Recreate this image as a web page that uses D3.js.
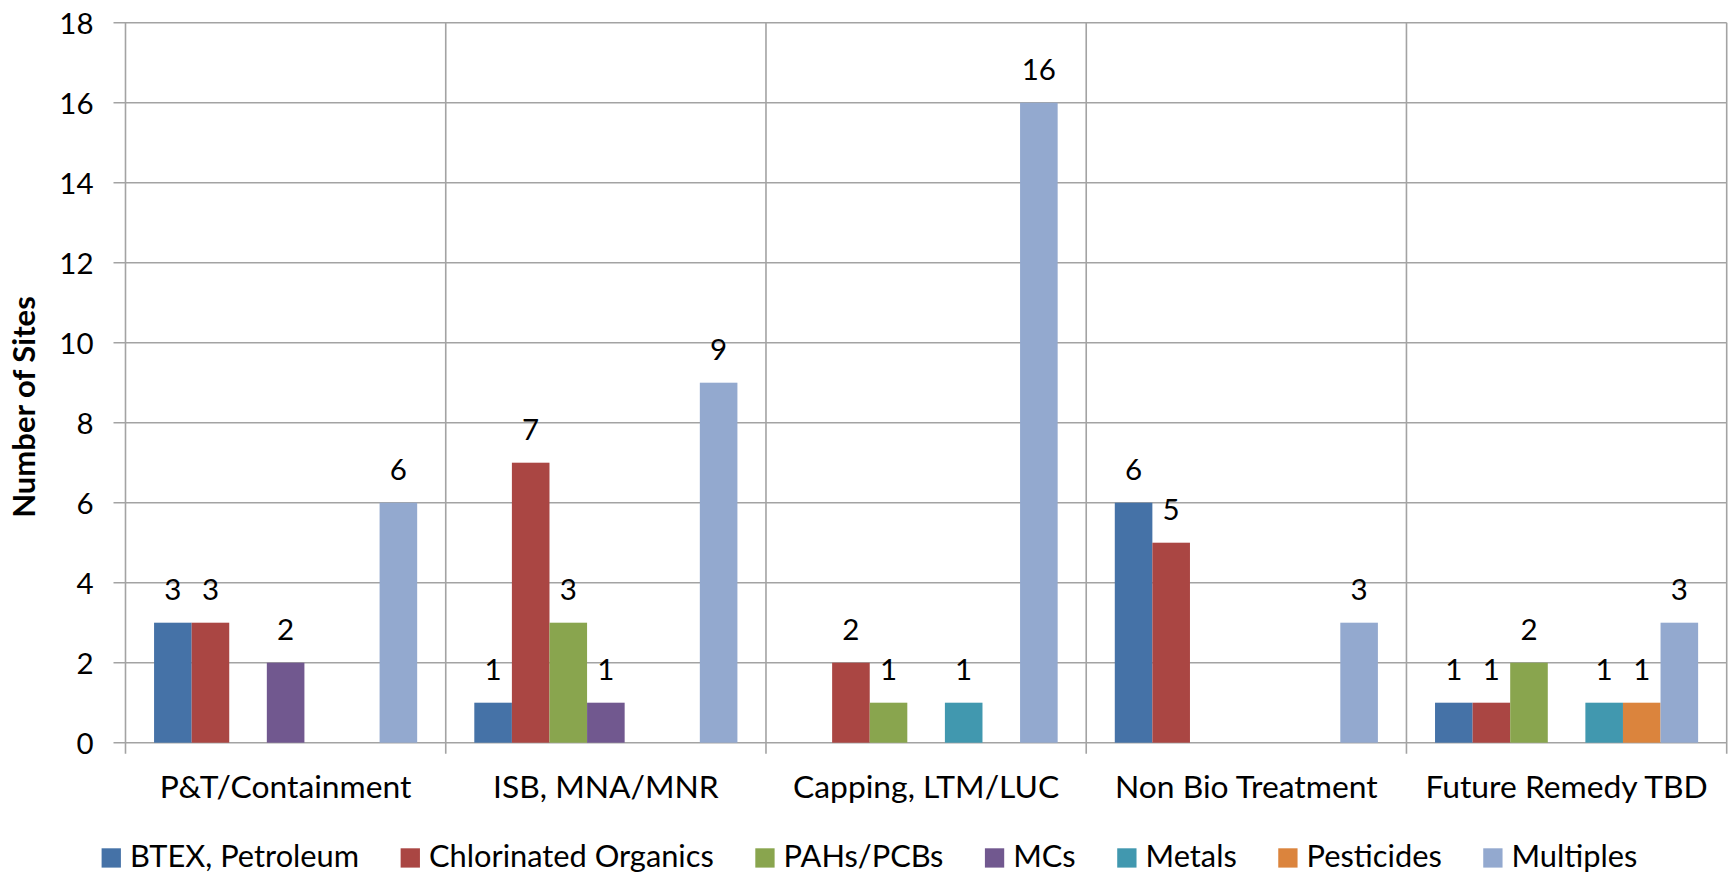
<!DOCTYPE html>
<html>
<head>
<meta charset="utf-8">
<script src="https://cdn.jsdelivr.net/npm/d3@7/dist/d3.min.js"></script>
<style>
  html, body { margin: 0; padding: 0; background: #ffffff; }
  svg { display: block; }
  text { font-family: Lato, "Open Sans", sans-serif; fill: #000; }
</style>
</head>
<body>
<svg id="chart" width="1733" height="876"></svg>
<script>
// ---- data ----
const categories = ["P&T/Containment", "ISB, MNA/MNR", "Capping, LTM/LUC", "Non Bio Treatment", "Future Remedy TBD"];
const seriesNames = ["BTEX, Petroleum", "Chlorinated Organics", "PAHs/PCBs", "MCs", "Metals", "Pesticides", "Multiples"];
const btex        = [3, 1, null, 6, 1];
const chlorinated = [3, 7, 2, 5, 1];
const pahs        = [null, 3, 1, null, 2];
const mcs         = [2, 1, null, null, null];
const metals      = [null, null, 1, null, 1];
const pesticides  = [null, null, null, null, 1];
const multiples   = [6, 9, 16, 3, 3];
const yTicks = [0, 2, 4, 6, 8, 10, 12, 14, 16, 18];
const colors = ["#4572A7", "#AA4643", "#89A54E", "#71588F", "#4198AF", "#DB843D", "#93A9CF"];
const yTitle = "Number of Sites";

const seriesValues = [btex, chlorinated, pahs, mcs, metals, pesticides, multiples];

// ---- layout ----
const svg = d3.select("#chart");
const plot = { left: 125.5, right: 1726.7, top: 22.7, bottom: 742.7 };

const x0 = d3.scaleBand().domain(categories).range([plot.left, plot.right]).paddingInner(0).paddingOuter(0);
const x1 = d3.scaleBand().domain(seriesNames).range([0, x0.bandwidth()]).paddingInner(0).paddingOuter(0.76);
const y = d3.scaleLinear().domain([0, 18]).range([plot.bottom, plot.top]);
const color = d3.scaleOrdinal().domain(seriesNames).range(colors);

const gridColor = "#a3a3a3";

// horizontal gridlines
svg.append("g").selectAll("line").data(yTicks).join("line")
  .attr("x1", plot.left - 12).attr("x2", plot.right)
  .attr("y1", d => y(d)).attr("y2", d => y(d))
  .attr("stroke", gridColor).attr("stroke-width", 1.6);

// vertical gridlines at category boundaries
const bounds = categories.map(c => x0(c)).concat([plot.right]);
svg.append("g").selectAll("line").data(bounds).join("line")
  .attr("x1", d => d).attr("x2", d => d)
  .attr("y1", plot.top).attr("y2", plot.bottom + 11)
  .attr("stroke", gridColor).attr("stroke-width", 1.6);

// y tick labels
svg.append("g").selectAll("text").data(yTicks).join("text")
  .attr("x", 93.5).attr("y", d => y(d) + 11)
  .attr("text-anchor", "end")
  .attr("font-size", 29.5)
  .text(d => d);

// y axis title
svg.append("text")
  .attr("transform", `translate(35,${407}) rotate(-90)`)
  .attr("text-anchor", "middle")
  .attr("font-size", 31)
  .attr("font-weight", "bold")
  .text(yTitle);

// bars
const barData = [];
categories.forEach((c, ci) => {
  seriesNames.forEach((s, si) => {
    const v = seriesValues[si][ci];
    if (v != null) barData.push({ c, s, v });
  });
});

svg.append("g").selectAll("rect").data(barData).join("rect")
  .attr("x", d => x0(d.c) + x1(d.s))
  .attr("y", d => y(d.v))
  .attr("width", x1.bandwidth())
  .attr("height", d => y(0) - y(d.v))
  .attr("fill", d => color(d.s));

// value labels
svg.append("g").selectAll("text").data(barData).join("text")
  .attr("x", d => x0(d.c) + x1(d.s) + x1.bandwidth() / 2)
  .attr("y", d => y(d.v) - 22.5)
  .attr("text-anchor", "middle")
  .attr("font-size", 29.5)
  .text(d => d.v);

// category labels
svg.append("g").selectAll("text").data(categories).join("text")
  .attr("x", d => x0(d) + x0.bandwidth() / 2)
  .attr("y", 797.5)
  .attr("text-anchor", "middle")
  .attr("font-size", 31.8)
  .text(d => d);

// legend
const legend = svg.append("g");
const items = legend.selectAll("g").data(seriesNames).join("g");
items.append("rect").attr("width", 19.3).attr("height", 19.3).attr("y", 848.3).attr("fill", d => color(d));
items.append("text").attr("x", 28.3).attr("y", 867).attr("font-size", 30.8).text(d => d);
const gap = 41.5;
let cx = 0;
items.each(function() {
  const g = d3.select(this);
  const w = g.select("text").node().getComputedTextLength();
  g.attr("transform", `translate(${cx},0)`);
  cx += 28.3 + w + gap;
});
const total = cx - gap;
legend.attr("transform", `translate(${869.5 - total / 2},0)`);
</script>
</body>
</html>
